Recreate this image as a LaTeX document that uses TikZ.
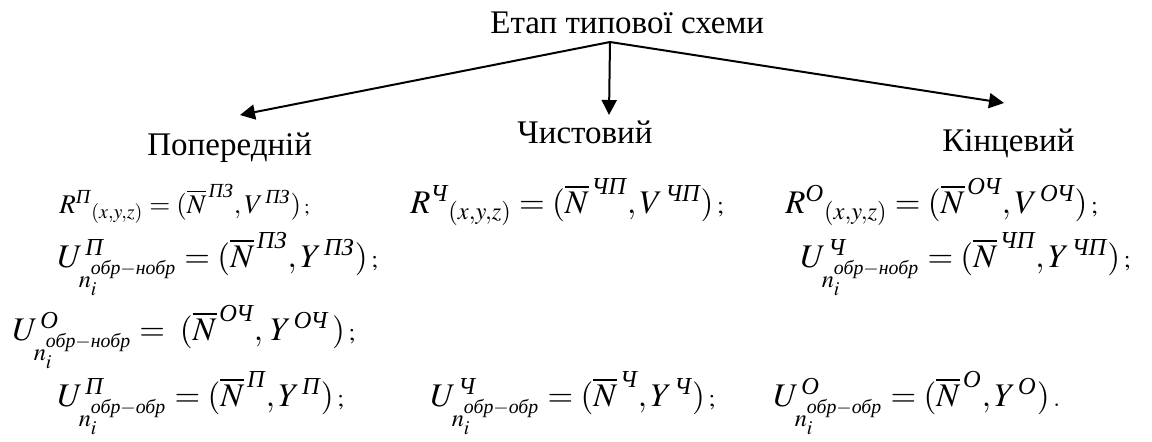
\documentclass[tikz,border=0pt]{standalone}
\usepackage{amsmath}
\usepackage{mathptmx}
\usepackage[no-math]{fontspec}
\setmainfont{Liberation Serif}
\newfontfamily\tnr{Liberation Serif}
\usetikzlibrary{arrows.meta}
\newcommand{\ukr}[1]{\text{\tnr\itshape #1}}
\newcommand{\smp}[1]{\,{\scriptstyle #1}}
\tikzset{
  etiq/.style={anchor=base west, inner sep=0pt, font=\tnr\fontsize{16.5}{20}\selectfont},
  formula/.style={anchor=base west, inner sep=0pt, font=\tnr\fontsize{16.5}{20}\selectfont},
  formulachica/.style={formula, font=\tnr\fontsize{13.5}{16}\selectfont},
  flecha/.style={-{Triangle[length=7.5pt,width=7.5pt]}, line width=1pt}
}
\begin{document}
\begin{tikzpicture}[x=0.5pt,y=-0.5pt]
        \useasboundingbox (0,0) rectangle (1152,441);
        % Título y etapas
        \node[etiq] (etapa) at (490,33) {Етап типової схеми};
        \node[etiq] (prev) at (147,155) {Попередній};
        \node[etiq] (chyst) at (517,143) {Чистовий};
        \node[etiq] (kinc) at (942,151) {Кінцевий};

        % Flechas
        \coordinate (apex) at (610,42);
        \coordinate (tipP) at (240,115);
        \coordinate (tipC) at (609,115);
        \coordinate (tipK) at (1004,103);
        \draw[flecha] (apex) -- (tipP);
        \draw[flecha] (apex) -- (tipC);
        \draw[flecha] (apex) -- (tipK);

        % Fórmulas
        \node[formulachica] (rP) at (59,213) {$R^{\ukr{П}}{}_{(x,y,z)}=(\overline{N}^{\,\ukr{ПЗ}},V^{\,\ukr{ПЗ}})\smp{;}$};
        \node[formula] (rC) at (410,213) {$R^{\ukr{Ч}}{}_{(x,y,z)}=(\overline{N}^{\,\ukr{ЧП}},V^{\,\ukr{ЧП}})\smp{;}$};
        \node[formula] (rO) at (785,213) {$R^{\ukr{О}}{}_{(x,y,z)}=(\overline{N}^{\,\ukr{ОЧ}},V^{\,\ukr{ОЧ}})\smp{;}$};

        \node[formula] (uPn) at (57,267) {$U^{\,\ukr{П}}_{n_i^{\ukr{обр}-\ukr{нобр}}}=(\overline{N}^{\,\ukr{ПЗ}},Y^{\,\ukr{ПЗ}})\smp{;}$};
        \node[formula] (uCn) at (800,267) {$U^{\,\ukr{Ч}}_{n_i^{\ukr{обр}-\ukr{нобр}}}=(\overline{N}^{\,\ukr{ЧП}},Y^{\,\ukr{ЧП}})\smp{;}$};
        \node[formula] (uOn) at (12,340) {$U^{\,\ukr{О}}_{n_i^{\ukr{обр}-\ukr{нобр}}}=\;(\overline{N}^{\,\ukr{ОЧ}},\,Y^{\,\ukr{ОЧ}}\,)\smp{;}$};

        \node[formula] (uP) at (57,406) {$U^{\,\ukr{П}}_{n_i^{\ukr{обр}-\ukr{обр}}}=(\overline{N}^{\,\ukr{П}},Y^{\,\ukr{П}})\smp{;}$};
        \node[formula] (uC) at (430,406) {$U^{\,\ukr{Ч}}_{n_i^{\ukr{обр}-\ukr{обр}}}=(\overline{N}^{\,\ukr{Ч}},Y^{\,\ukr{Ч}})\smp{;}$};
        \node[formula] (uO) at (773,406) {$U^{\,\ukr{О}}_{n_i^{\ukr{обр}-\ukr{обр}}}=(\overline{N}^{\,\ukr{О}},Y^{\,\ukr{О}})\smp{.}$};
\end{tikzpicture}
\end{document}
